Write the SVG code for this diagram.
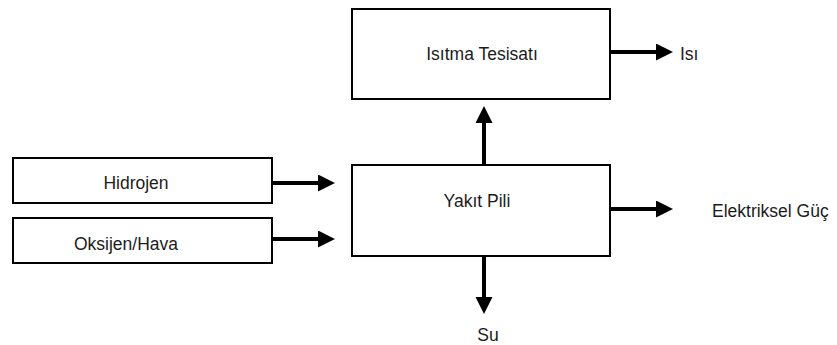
<svg xmlns="http://www.w3.org/2000/svg" width="837" height="345" viewBox="0 0 837 345">
<style>
.box{fill:#fff;stroke:#000;stroke-width:2}
.lbl{font-family:"Liberation Sans",Arial,sans-serif;font-size:17.5px;fill:#1c1c1c}
.conn{stroke:#000;stroke-width:4;fill:none}
</style>
<defs>
<marker id="ah" markerUnits="userSpaceOnUse" markerWidth="18" markerHeight="18" refX="1" refY="8.5" orient="auto">
<path d="M0,0 L17,8.5 L0,17 z" fill="#000"/>
</marker>
</defs>
<rect width="837" height="345" fill="#fff"/>
<g id="isitma">
<rect class="box" x="352" y="9" width="258" height="90"/>
<text class="lbl" x="482" y="60" text-anchor="middle">Isıtma Tesisatı</text>
</g>
<g id="hidrojen">
<rect class="box" x="13" y="158" width="259" height="45"/>
<text class="lbl" x="136" y="189" text-anchor="middle">Hidrojen</text>
</g>
<g id="oksijen">
<rect class="box" x="13" y="218" width="259" height="45"/>
<text class="lbl" x="126" y="250" text-anchor="middle">Oksijen/Hava</text>
</g>
<g id="yakit">
<rect class="box" x="352" y="165" width="258" height="91"/>
<text class="lbl" x="477" y="207" text-anchor="middle">Yakıt Pili</text>
</g>
<g id="isi"><text class="lbl" x="680" y="60">Isı</text></g>
<g id="elektrik"><text class="lbl" x="712" y="217">Elektriksel Güç</text></g>
<g id="su"><text class="lbl" x="488" y="341" text-anchor="middle">Su</text></g>
<g id="connectors">
<line class="conn" x1="272" y1="183" x2="319" y2="183" marker-end="url(#ah)"/>
<line class="conn" x1="272" y1="239" x2="319" y2="239" marker-end="url(#ah)"/>
<line class="conn" x1="484" y1="165" x2="484" y2="122" marker-end="url(#ah)"/>
<line class="conn" x1="610" y1="52" x2="657" y2="52" marker-end="url(#ah)"/>
<line class="conn" x1="610" y1="209" x2="657" y2="209" marker-end="url(#ah)"/>
<line class="conn" x1="484" y1="256" x2="484" y2="298" marker-end="url(#ah)"/>
</g>
</svg>
